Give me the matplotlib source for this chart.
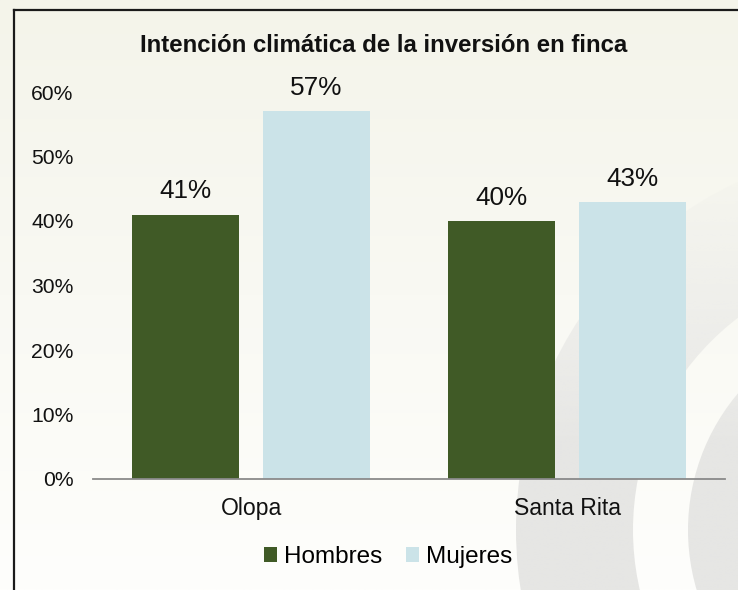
import matplotlib.pyplot as plt
import numpy as np
from matplotlib.patches import Wedge

plt.rcParams['font.family'] = ['Liberation Sans', 'DejaVu Sans']

categories = ['Olopa', 'Santa Rita']
hombres = [0.41, 0.40]
mujeres = [0.57, 0.43]
series_names = ['Hombres', 'Mujeres']
yticks = [0, 0.1, 0.2, 0.3, 0.4, 0.5, 0.6]

c_hombres = '#405a26'
c_mujeres = '#cbe3e8'

W, H = 738, 590
fig = plt.figure(figsize=(W / 100, H / 100), dpi=100)

# background: vertical cream gradient plus faint rings at lower right
bg = fig.add_axes([0, 0, 1, 1], zorder=0)
bg.set_xlim(0, W)
bg.set_ylim(H, 0)
bg.axis('off')
top = np.array([0xf4, 0xf4, 0xea]) / 255
bot = np.array([0xfe, 0xfe, 0xfc]) / 255
t = np.linspace(0, 1, 256)[:, None, None]
grad = np.repeat(top * (1 - t) + bot * t, 2, axis=1)
bg.imshow(grad, extent=[0, W, H, 0], aspect='auto', interpolation='bilinear')

# rings fade out towards the top
fade = np.zeros((256, 2, 4))
fade[..., :3] = np.array([0xe6, 0xe6, 0xe4]) / 255
fade[..., 3] = np.clip((np.linspace(0, H, 256) - 150) / 300, 0, 1)[:, None]
for r, wd in ((384, 117), (212, 90)):
    ring = Wedge((900, 530), r, 0, 360, width=wd, facecolor='none', lw=0)
    bg.add_patch(ring)
    im = bg.imshow(fade, extent=[0, W, H, 0], aspect='auto', interpolation='bilinear')
    im.set_clip_path(ring)
bg.set_xlim(0, W)
bg.set_ylim(H, 0)
bg.plot([14, 14], [10, H], color='#1a1a1a', lw=1.6)
bg.plot([14, W], [10, 10], color='#1a1a1a', lw=1.6)

ax = fig.add_axes([93 / W, 1 - 479 / H, 632 / W, 387 / H], zorder=1)
ax.patch.set_alpha(0)

x = np.arange(len(categories))
w = 0.337
off = 0.207
b1 = ax.bar(x - off, hombres, w, color=c_hombres, label=series_names[0])
b2 = ax.bar(x + off, mujeres, w, color=c_mujeres, label=series_names[1])

for bars, vals in ((b1, hombres), (b2, mujeres)):
    for rect, v in zip(bars, vals):
        ax.annotate(f'{v:.0%}', (rect.get_x() + rect.get_width() / 2, v),
                    xytext=(0, 8), textcoords='offset points',
                    ha='center', va='bottom', fontsize=18.8, color='#111111')

ax.set_xlim(-0.5, 1.5)
ax.set_ylim(0, 0.6)
ax.set_yticks(yticks)
ax.set_yticklabels([f'{v:.0%}' for v in yticks], fontsize=15.2, color='#111111')
ax.set_xticks(x)
ax.set_xticklabels(categories, fontsize=16.6, color='#111111')
ax.tick_params(axis='both', length=0)
ax.tick_params(axis='y', pad=14)
ax.tick_params(axis='x', pad=13)
for s in ('top', 'right', 'left'):
    ax.spines[s].set_visible(False)
ax.spines['bottom'].set_color('#8a8a8a')
ax.spines['bottom'].set_linewidth(1.3)

fig.text(384 / W, 1 - 45 / H, 'Intención climática de la inversión en finca',
         ha='center', va='center', fontsize=17.3, fontweight='bold', color='#111111')

fig.legend(loc='center', bbox_to_anchor=(388 / W, 1 - 557 / H), ncol=2,
           frameon=False, fontsize=17.5, handlelength=0.55, handleheight=0.55,
           handletextpad=0.3, columnspacing=0.95)

fig.savefig('out.png', dpi=100)
